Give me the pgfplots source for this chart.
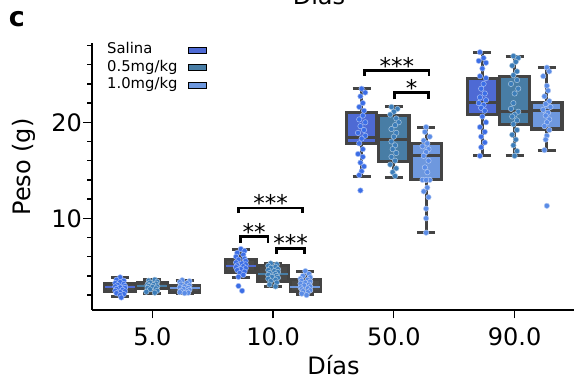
\documentclass[border=0pt]{standalone}
\usepackage{fontspec}
\setmainfont{DejaVu Sans}
\usepackage{pgfplots}
\pgfplotsset{compat=1.18}
\usepgfplotslibrary{statistics}
\definecolor{edge}{HTML}{444444}
\definecolor{gfill}{HTML}{4A4A4A}
\definecolor{bS}{HTML}{4E6AD4}
\definecolor{bH}{HTML}{487DA5}
\definecolor{bO}{HTML}{6E98DE}
\definecolor{pS}{HTML}{3C6EE6}
\definecolor{pH}{HTML}{3C7DB9}
\definecolor{pO}{HTML}{5A8CE6}
\newcommand{\BOX}[8]{%
\addplot[forget plot, draw=edge, boxplot prepared={draw direction=y, draw position=#1, lower whisker=#2, lower quartile=#3, median=#4, upper quartile=#5, upper whisker=#6, box extend=0.25, whisker extend=0.15,
 every box/.style={draw=edge, fill=#7, line width=3.2pt},
 every whisker/.style={draw=edge, line width=3pt},
 every median/.style={#8}}] coordinates {};}
\pgfplotsset{
 pts/.style={forget plot, only marks, mark=*, mark size=2.7pt, mark options={fill=#1, draw=white!55!#1, line width=0.5pt}},
}
\begin{document}
\begin{tikzpicture}
\path[use as bounding box] (-92pt,-73pt) rectangle (482pt,310pt);
\begin{axis}[
 name=ax, at={(0pt,0pt)}, anchor=south west,
 scale only axis, width=483pt, height=267pt,
 xmin=-0.5, xmax=3.5, ymin=0.448, ymax=28.26,
 axis x line*=bottom, axis y line*=left,
 axis line style={-, line width=1.25pt, black},
 xtick={0,1,2,3}, xticklabels={5.0,10.0,50.0,90.0},
 ytick={10,20}, minor ytick={2,4,6,8,12,14,16,18,22,24,26,28},
 tick align=outside, major tick length=8.5pt, minor tick length=4.5pt,
 tick style={line width=1.25pt, black},
 /pgf/number format/assume math mode=true,
 tick label style={font=\fontsize{24}{28}\selectfont, inner sep=0pt},
 xticklabel style={anchor=base, yshift=-26.7pt},
 yticklabel style={anchor=east, xshift=-1.5pt},
 xlabel={Días}, ylabel={Peso (g)},
 label style={font=\fontsize{24}{28}\selectfont, inner sep=0pt},
 xlabel style={at={(axis description cs:0.5,-0.2397)}, anchor=base},
 ylabel style={at={(axis description cs:-0.1408,0.5356)}, anchor=center},
 legend style={at={(axis description cs:0.031,1)}, anchor=north west, draw=none, fill=none,
   font=\fontsize{14.8}{17}\selectfont, inner sep=0pt, row sep=3.6pt,
   nodes={inner sep=0pt, text height=10.8pt, text depth=3pt},
   /tikz/every odd column/.append style={column sep=11pt}},
 legend plot pos=right, legend cell align=left,
 legend image code/.code={\draw[#1, draw=edge, line width=0.6pt] (0pt,-3pt) rectangle (19pt,3pt);},
 clip=false,
]
% ---- boxes: day 5 and 10 (grey boxes, coloured median)
\BOX{-0.267}{1.9}{2.4}{2.8}{3.2}{3.85}{gfill}{draw=bS, line width=2pt}
\BOX{0}{2.2}{2.7}{2.9}{3.3}{3.6}{gfill}{draw=bH, line width=2pt}
\BOX{0.267}{2.2}{2.3}{2.7}{2.95}{3.5}{gfill}{draw=bO, line width=2pt}
\BOX{0.733}{3.85}{4.4}{5.0}{5.7}{6.8}{gfill}{draw=bS, line width=2pt}
\BOX{1}{2.88}{3.4}{4.17}{5.1}{5.3}{gfill}{draw=bH, line width=2pt}
\BOX{1.267}{2.08}{2.35}{2.88}{3.65}{4.44}{gfill}{draw=bO, line width=2pt}
% ---- boxes: day 50 and 90
\BOX{1.733}{14.4}{17.8}{18.4}{21.0}{23.5}{bS}{draw=edge, line width=3.2pt}
\BOX{2}{14.3}{15.9}{18.2}{20.7}{21.6}{bH}{draw=edge, line width=3.2pt}
\BOX{2.267}{8.5}{14.0}{16.5}{17.8}{19.5}{bO}{draw=edge, line width=3.2pt}
\BOX{2.733}{16.5}{20.8}{22.1}{24.6}{27.3}{bS}{draw=edge, line width=3.2pt}
\BOX{3}{16.5}{19.8}{21.1}{24.8}{26.9}{bH}{draw=edge, line width=3.2pt}
\BOX{3.267}{17.1}{19.3}{21.2}{22.1}{25.7}{bO}{draw=edge, line width=3.2pt}
% ---- swarm points
\addplot[pts=pS] table[x expr=\thisrow{o}-0.267, y=y] {
o y
0 3.85
-0.03 3.6
0.03 3.5
0 3.35
-0.04 3.25
0.03 3.15
-0.02 3.05
0.04 2.95
-0.04 2.9
0 2.8
0.04 2.75
-0.03 2.65
0.02 2.55
-0.04 2.45
0.04 2.4
0 2.3
-0.03 2.2
0.03 2.1
0 2.0
0.01 1.75
};
\addplot[pts=pH] table[x expr=\thisrow{o}, y=y] {
o y
0.02 3.6
-0.03 3.5
0.04 3.4
-0.02 3.3
0.03 3.2
-0.04 3.1
0.01 3.05
-0.03 2.95
0.04 2.9
0 2.85
-0.04 2.75
0.03 2.7
-0.02 2.6
0.04 2.45
-0.05 2.35
0.02 2.25
};
\addplot[pts=pO] table[x expr=\thisrow{o}+0.267, y=y] {
o y
-0.02 3.55
0.04 3.45
-0.04 3.35
0.02 3.25
-0.03 3.1
0.04 3.0
0 2.9
-0.04 2.8
0.03 2.75
-0.01 2.65
0.04 2.55
-0.03 2.45
0.02 2.4
-0.04 2.3
0.03 2.25
0 2.2
};
\addplot[pts=pS] table[x expr=\thisrow{o}+0.733, y=y] {
o y
0 6.8
0.03 6.6
-0.03 6.4
0.02 6.2
-0.04 6.0
0.03 5.8
-0.02 5.7
0.04 5.55
-0.04 5.4
0.01 5.3
0.04 5.2
-0.03 5.1
0.02 5.0
-0.04 4.9
0.04 4.8
0 4.7
-0.03 4.6
0.03 4.45
-0.01 4.3
0.02 4.1
-0.02 3.9
-0.02 2.95
0.01 2.45
};
\addplot[pts=pH] table[x expr=\thisrow{o}+1, y=y] {
o y
-0.02 5.3
0.03 5.2
-0.04 5.05
0.02 4.95
-0.02 4.85
0.04 4.7
-0.04 4.6
0.01 4.5
0.04 4.4
-0.03 4.3
0.02 4.2
-0.04 4.1
0.03 4.0
-0.01 3.9
0.04 3.8
-0.04 3.7
0.02 3.6
-0.02 3.45
0.03 3.3
-0.03 3.1
0.02 2.9
};
\addplot[pts=pO] table[x expr=\thisrow{o}+1.267, y=y] {
o y
0 4.5
0.03 4.2
-0.02 4.0
0.04 3.85
-0.04 3.7
0.02 3.6
-0.03 3.5
0.04 3.4
0 3.3
-0.04 3.2
0.03 3.1
-0.01 3.0
0.04 2.9
-0.04 2.8
0.02 2.7
-0.03 2.6
0.04 2.5
-0.02 2.4
0.02 2.3
-0.03 2.15
0.01 2.0
};
\addplot[pts=pS] table[x expr=\thisrow{o}+1.733, y=y] {
o y
0 23.5
0.03 23.1
-0.01 22.7
0.01 22.0
-0.02 21.6
0.02 21.2
0.01 20.7
-0.02 20.3
0.03 20.0
-0.01 19.6
0.02 19.2
-0.03 18.9
0.03 18.6
0 18.3
-0.02 17.8
0.01 17.2
-0.03 16.7
0.01 16.4
-0.01 15.8
0.02 15.4
0 14.9
-0.02 14.5
-0.01 12.9
};
\addplot[pts=pH] table[x expr=\thisrow{o}+2, y=y] {
o y
-0.02 21.6
0.03 21.4
0 21.1
-0.03 20.8
0.02 20.4
0.04 20.0
0.01 19.7
-0.02 19.3
0.02 18.9
0 18.5
-0.02 18.0
0.01 17.6
-0.01 17.2
0.02 16.8
-0.02 16.4
0.01 16.0
-0.03 15.6
0.02 15.2
-0.01 14.8
0.01 14.4
};
\addplot[pts=pO] table[x expr=\thisrow{o}+2.267, y=y] {
o y
0 19.5
-0.01 19.0
0.03 18.5
-0.02 18.1
0.01 17.8
-0.03 17.5
0.02 17.2
0 16.9
-0.02 16.5
0.02 16.0
-0.01 15.3
0.01 14.8
-0.03 14.0
0.03 14.0
0 14.0
0.01 13.2
-0.02 12.8
0.02 12.2
0 11.0
0 10.0
0 8.5
};
\addplot[pts=pS] table[x expr=\thisrow{o}+2.733, y=y] {
o y
-0.02 27.3
0.01 26.7
-0.03 26.4
0.03 26.2
0 25.6
-0.02 24.8
0.03 24.6
0.01 24.0
-0.01 23.5
0.02 23.0
-0.02 22.6
0.03 22.3
-0.03 22.0
0.01 21.8
-0.01 21.5
0.02 21.2
0 20.6
0.03 20.0
-0.02 19.5
0.02 19.0
-0.01 18.5
0.02 17.9
-0.01 17.4
-0.02 16.5
};
\addplot[pts=pH] table[x expr=\thisrow{o}+3, y=y] {
o y
-0.01 26.9
0.03 26.7
0.01 26.3
-0.02 25.9
0.02 25.3
-0.01 24.9
0.02 24.4
-0.03 24.0
0.03 23.5
0 23.0
-0.01 22.0
-0.03 21.4
0.03 21.1
0 20.8
-0.02 20.6
0.02 20.2
-0.01 19.8
0.02 19.2
-0.02 18.7
0.01 18.2
-0.01 17.6
0.02 17.0
0 16.5
};
\addplot[pts=pO] table[x expr=\thisrow{o}+3.267, y=y] {
o y
0 25.7
0.02 25.3
-0.03 24.8
0 23.8
0.01 23.3
-0.02 22.7
0.02 22.2
-0.01 21.9
0.03 21.6
-0.03 21.3
0.01 21.0
-0.01 20.7
0.02 20.3
0 20.0
-0.02 19.6
0.02 19.2
0 18.6
-0.01 18.2
-0.02 17.1
0 11.3
};
% ---- significance brackets
\draw[line width=2.6pt, line join=miter] (axis cs:0.715,10.55) -- (axis cs:0.715,11.07) -- (axis cs:1.245,11.07) -- (axis cs:1.245,10.55);
\draw[line width=2.6pt, line join=miter] (axis cs:0.729,7.46) -- (axis cs:0.729,8.08) -- (axis cs:0.958,8.08) -- (axis cs:0.958,7.46);
\draw[line width=2.6pt, line join=miter] (axis cs:1.027,6.28) -- (axis cs:1.027,6.875) -- (axis cs:1.262,6.875) -- (axis cs:1.262,6.28);
\draw[line width=2.6pt, line join=miter] (axis cs:1.759,24.85) -- (axis cs:1.759,25.375) -- (axis cs:2.292,25.375) -- (axis cs:2.292,24.85);
\draw[line width=2.6pt, line join=miter] (axis cs:2.007,22.4) -- (axis cs:2.007,23.08) -- (axis cs:2.289,23.08) -- (axis cs:2.289,22.4);
\begin{scope}[every node/.style={anchor=base, inner sep=0pt, font=\fontsize{23}{26}\selectfont, yshift=-3.5pt}]
\node at (axis cs:0.98,11.07) {***};
\node at (axis cs:0.8435,8.08) {**};
\node at (axis cs:1.1445,6.875) {***};
\node at (axis cs:2.0255,25.375) {***};
\node at (axis cs:2.148,23.08) {*};
\end{scope}
% ---- legend
\addlegendimage{area legend, fill=bS}\addlegendentry{Salina}
\addlegendimage{area legend, fill=bH}\addlegendentry{0.5mg/kg}
\addlegendimage{area legend, fill=bO}\addlegendentry{1.0mg/kg}
\end{axis}
\node[anchor=base west, inner sep=0pt, font=\bfseries\fontsize{27}{30}\selectfont] at (-83.4pt,283pt) {c};
\begin{scope}
\clip (-92pt,-73pt) rectangle (482pt,310pt);
\node[anchor=base, inner sep=0pt, font=\fontsize{24}{28}\selectfont] at (227pt,305pt) {Días};
\end{scope}
\end{tikzpicture}
\end{document}
